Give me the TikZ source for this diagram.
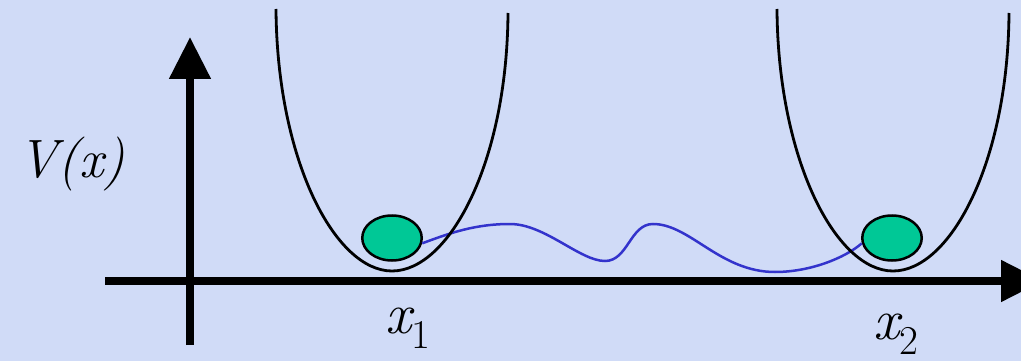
\documentclass[tikz,border=0pt]{standalone}
\usetikzlibrary{shapes.geometric,arrows.meta}
\definecolor{bgcol}{RGB}{208,219,247}
\definecolor{ballgreen}{RGB}{0,200,150}
\definecolor{pathblue}{RGB}{51,51,204}
\tikzset{
  axis/.style={line width=8pt, -{Triangle[length=42pt,width=40pt]}},
  well/.style={line width=2.8pt, black},
  ball/.style={ellipse, draw=black, line width=2.5pt, fill=ballgreen, minimum width=59.5pt, minimum height=45pt, inner sep=0pt},
  tunnel/.style={line width=2.5pt, pathblue},
  lab/.style={inner sep=0pt, anchor=base west, font=\fontsize{58}{60}\selectfont\itshape},
}
\newcommand{\subsc}[1]{\raisebox{-15pt}{\fontsize{41}{41}\selectfont\upshape #1}}
\begin{document}
\begin{tikzpicture}[x=1pt,y=-1pt]
\useasboundingbox (0,0) rectangle (1021,361);
\fill[bgcol] (0,0) rectangle (1021,361);
\clip (0,0) rectangle (1021,361);
% axes
\coordinate (vbot) at (190,345);
\coordinate (vtop) at (190,37);
\coordinate (hleft) at (105,281);
\coordinate (hright) at (1043,281);
\draw[axis] (vbot) -- (vtop);
\draw[axis] (hleft) -- (hright);
% balls
\node[ball] (ball1) at (392,238) {};
\node[ball] (ball2) at (892,238) {};
% tunnelling path
\draw[tunnel] (ball1.-10) .. controls (450,233) and (475,224) .. (510,224)
  .. controls (545,224) and (580,261) .. (605,261)
  .. controls (628,261) and (630,224) .. (653,224)
  .. controls (690,224) and (720,272) .. (775,272)
  .. controls (810,272) and (845,258) .. (ball2.190);
% wells
\draw[well] (276,9) .. controls (277,160) and (335,271) .. (392,271)
  .. controls (449,271) and (507,163) .. (508,13);
\draw[well] (777,9) .. controls (778,160) and (836,271) .. (893,271)
  .. controls (950,271) and (1008,163) .. (1009,13);
% labels
\node[lab, font=\fontsize{54}{56}\selectfont\itshape] (vlab) at (18,177) {V(x)};
\node[lab] (x1) at (385,333) {x\subsc{1}};
\node[lab] (x2) at (873,339) {x\subsc{2}};
\end{tikzpicture}
\end{document}
